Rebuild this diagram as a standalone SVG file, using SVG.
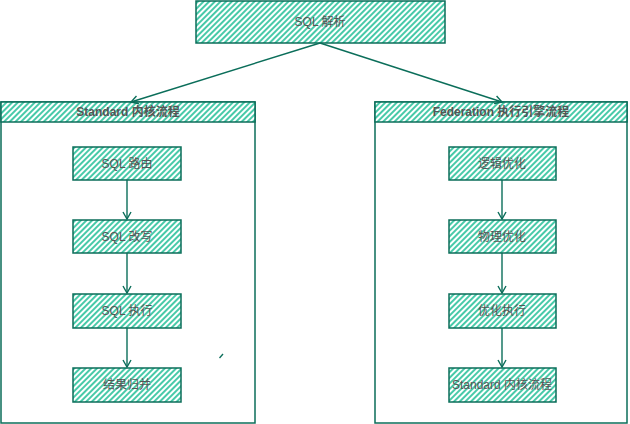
<svg xmlns="http://www.w3.org/2000/svg" width="630" height="424" viewBox="0 0 630 424">
<style>
.box{fill:url(#hatch);stroke:#0b6e5a;stroke-width:1.5}
.frame{fill:#ffffff;stroke:#0b6e5a;stroke-width:1.5}
.t{font-family:"Liberation Sans","Noto Sans CJK SC",sans-serif;font-size:12px;fill:#555555;text-anchor:middle;dominant-baseline:central}
.h{font-weight:bold;font-size:12px}
.c{fill:none;stroke:#0b6e5a;stroke-width:1.4}
</style>
<defs>
<pattern id="hatch" width="4" height="4" patternUnits="userSpaceOnUse" patternTransform="rotate(45)">
<rect width="4" height="4" fill="#ffffff"/>
<line x1="1" y1="0" x2="1" y2="4" stroke="#33c49f" stroke-width="1.8"/>
</pattern>
<marker id="arr" markerWidth="10" markerHeight="10" refX="8" refY="5" orient="auto" markerUnits="userSpaceOnUse">
<path d="M1,1 L8,5 L1,9" fill="none" stroke="#0b6e5a" stroke-width="1.4"/>
</marker>
</defs>
<g id="std-frame">
<rect class="frame" x="1" y="102" width="254" height="321"/>
<rect class="box" x="1" y="102" width="254" height="20"/>
<text class="t h" x="128" y="112">Standard 内核流程</text>
</g>
<g id="fed-frame">
<rect class="frame" x="375" y="102" width="252" height="321"/>
<rect class="box" x="375" y="102" width="252" height="20"/>
<text class="t h" x="501" y="112">Federation 执行引擎流程</text>
</g>
<g id="sql-parse">
<rect class="box" x="196" y="1" width="249" height="42"/>
<text class="t" x="320" y="22">SQL 解析</text>
</g>
<g id="sql-route">
<rect class="box" x="73" y="147" width="108" height="33"/>
<text class="t" x="127" y="164">SQL 路由</text>
</g>
<g id="sql-rewrite">
<rect class="box" x="73" y="220" width="108" height="33"/>
<text class="t" x="127" y="237">SQL 改写</text>
</g>
<g id="sql-exec">
<rect class="box" x="73" y="294" width="108" height="34"/>
<text class="t" x="127" y="311">SQL 执行</text>
</g>
<g id="merge">
<rect class="box" x="73" y="368" width="108" height="34"/>
<text class="t" x="127" y="385">结果归并</text>
</g>
<g id="logic-opt">
<rect class="box" x="449" y="147" width="107" height="33"/>
<text class="t" x="502" y="164">逻辑优化</text>
</g>
<g id="phys-opt">
<rect class="box" x="449" y="220" width="107" height="33"/>
<text class="t" x="502" y="237">物理优化</text>
</g>
<g id="opt-exec">
<rect class="box" x="449" y="294" width="107" height="34"/>
<text class="t" x="502" y="311">优化执行</text>
</g>
<g id="std-kernel">
<rect class="box" x="449" y="368" width="107" height="34"/>
<text class="t" x="502" y="385">Standard 内核流程</text>
</g>
<g id="connectors">
<line class="c" x1="320" y1="43" x2="131" y2="102" marker-end="url(#arr)"/>
<line class="c" x1="320" y1="43" x2="502" y2="102" marker-end="url(#arr)"/>
<line class="c" x1="127" y1="180" x2="127" y2="219" marker-end="url(#arr)"/>
<line class="c" x1="127" y1="253" x2="127" y2="293" marker-end="url(#arr)"/>
<line class="c" x1="127" y1="328" x2="127" y2="367" marker-end="url(#arr)"/>
<line class="c" x1="502" y1="180" x2="502" y2="219" marker-end="url(#arr)"/>
<line class="c" x1="502" y1="253" x2="502" y2="293" marker-end="url(#arr)"/>
<line class="c" x1="502" y1="328" x2="502" y2="367" marker-end="url(#arr)"/>
<line class="c" x1="219.5" y1="358" x2="223" y2="354"/>
</g>
</svg>
